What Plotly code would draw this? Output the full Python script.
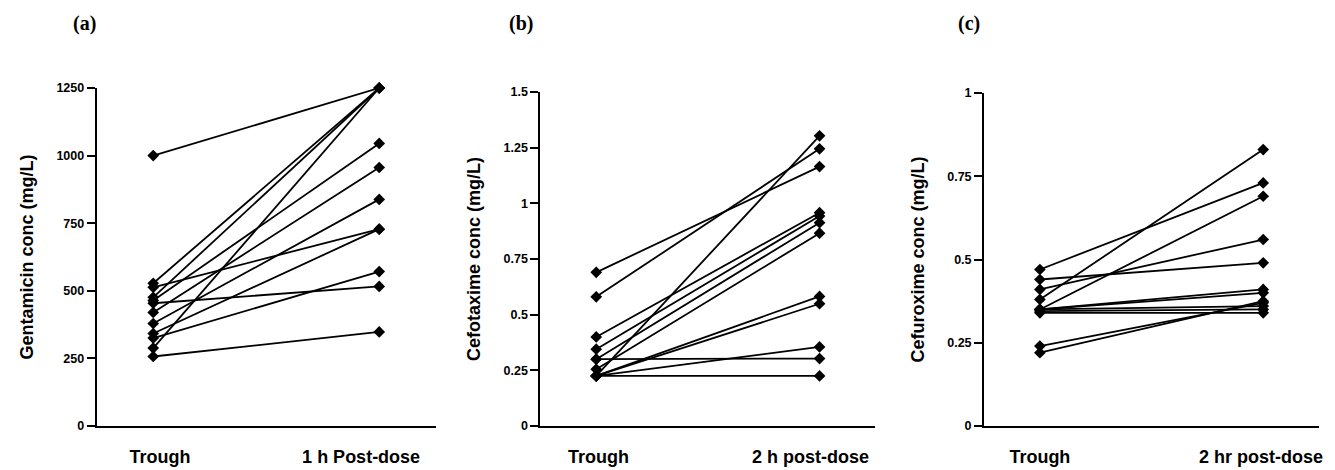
import plotly.graph_objects as go
from plotly.subplots import make_subplots

# ---------------- data ----------------
categories_a = ["Trough", "1 h Post-dose"]
gent_trough = [1000, 528, 476, 288, 513, 464, 454, 420, 379, 342, 325, 257]
gent_post   = [1250, 1250, 1250, 1250, 728, 1045, 516, 956, 838, 728, 571, 348]

categories_b = ["Trough", "2 h post-dose"]
cefo_trough = [0.69, 0.58, 0.225, 0.40, 0.345, 0.30, 0.255, 0.225, 0.225, 0.225, 0.30, 0.225]
cefo_post   = [1.165, 1.245, 1.303, 0.958, 0.943, 0.913, 0.866, 0.582, 0.549, 0.355, 0.303, 0.225]

categories_c = ["Trough", "2 hr post-dose"]
cefu_trough = [0.47, 0.38, 0.41, 0.44, 0.35, 0.35, 0.35, 0.35, 0.345, 0.34, 0.24, 0.22]
cefu_post   = [0.73, 0.83, 0.56, 0.49, 0.69, 0.41, 0.40, 0.36, 0.35, 0.34, 0.37, 0.375]

y_titles = ["Gentamicin conc (mg/L)", "Cefotaxime conc (mg/L)", "Cefuroxime conc (mg/L)"]
panel_letters = ["(a)", "(b)", "(c)"]
y_ranges = [[0, 1250], [0, 1.5], [0, 1]]
y_ticks = [[0, 250, 500, 750, 1000, 1250],
           [0, 0.25, 0.5, 0.75, 1, 1.25, 1.5],
           [0, 0.25, 0.5, 0.75, 1]]
y_ticktext = [["0", "250", "500", "750", "1000", "1250"],
              ["0", "0.25", "0.5", "0.75", "1", "1.25", "1.5"],
              ["0", "0.25", "0.5", "0.75", "1"]]
# caption positions for the category labels (axis coordinates)
label_pos = [[0.03, 0.92], [0.01, 0.96], [0.0, 0.99]]

panels = [(categories_a, gent_trough, gent_post),
          (categories_b, cefo_trough, cefo_post),
          (categories_c, cefu_trough, cefu_post)]

# page body has an 8px margin, so the figure is laid out in page px - 8
W, H = 1327, 462
T, B = 80, 44
PH = H - T - B
x_domains_px = [(89, 429), (534, 870), (979, 1315)]
y_top_px = [80, 84, 85]

fig = make_subplots(rows=1, cols=3)

sans = "Liberation Sans, Arial, sans-serif"

for i, (cats, tr, po) in enumerate(panels):
    for a, b in zip(tr, po):
        fig.add_trace(go.Scatter(
            x=[0, 1], y=[a, b], mode="lines+markers",
            line=dict(color="black", width=1.8),
            marker=dict(symbol="diamond", size=9, color="black"),
            cliponaxis=False,
            showlegend=False, hoverinfo="skip"),
            row=1, col=i + 1)
    d0, d1 = x_domains_px[i]
    fig.update_xaxes(
        domain=[d0 / W, d1 / W], range=[-0.25, 1.25],
        showline=True, linecolor="black", linewidth=2,
        showgrid=False, zeroline=False, ticks="",
        tickvals=label_pos[i], ticktext=cats,
        ticklabelstandoff=13,
        tickfont=dict(family=sans, size=18, color="black", weight="bold"),
        row=1, col=i + 1)
    fig.update_yaxes(
        domain=[0, 1 - (y_top_px[i] - T) / PH],
        range=y_ranges[i], showline=True, linecolor="black", linewidth=2,
        showgrid=False, zeroline=False, ticks="outside", ticklen=8,
        tickwidth=1.5, tickcolor="black",
        tickvals=y_ticks[i], ticktext=y_ticktext[i],
        tickfont=dict(family=sans, size=12.5, color="black", weight="bold"),
        title=dict(text=y_titles[i], standoff=18,
                   font=dict(family=sans, size=18, color="black", weight="bold")),
        row=1, col=i + 1)

letter_x_px = [77, 515, 964]
for i, t in enumerate(panel_letters):
    fig.add_annotation(
        text=t, xref="paper", yref="paper", x=letter_x_px[i] / W,
        y=(H - B - 15) / PH,
        showarrow=False, xanchor="center", yanchor="middle",
        font=dict(family="Liberation Serif, Times New Roman, serif", size=20,
                  color="black", weight="bold"))

fig.update_layout(
    width=W, height=H,
    margin=dict(l=0, r=0, t=T, b=B),
    paper_bgcolor="white", plot_bgcolor="white",
    showlegend=False,
)

fig.write_html("out.html")
